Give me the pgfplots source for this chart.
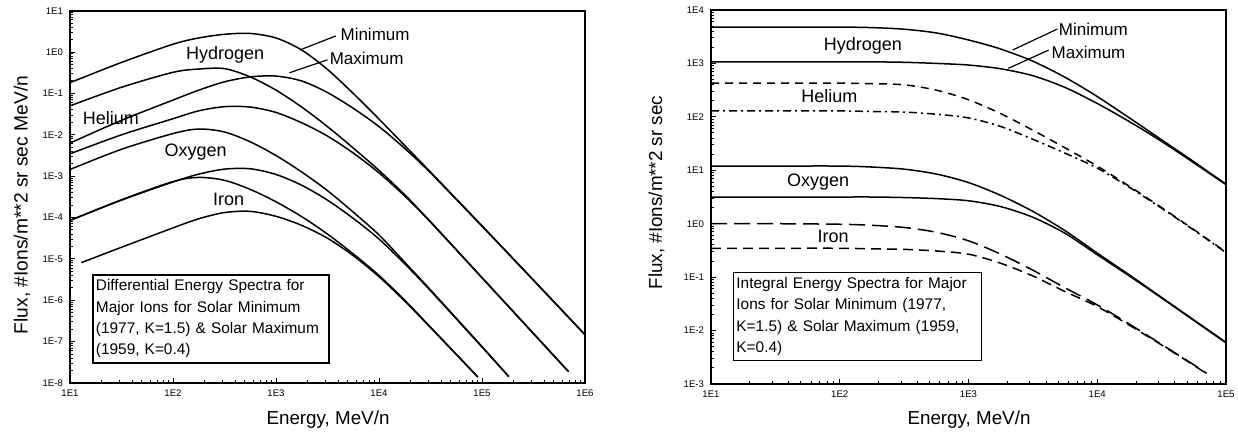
\documentclass[border=0pt]{standalone}
\usepackage{pgfplots}
\pgfplotsset{compat=1.18}
\usepackage{fontspec}
\setmainfont{Liberation Sans}

\tikzset{
  curve/.style={smooth, line width=0.75pt, black},
  lbl/.style={font=\fontsize{9}{10}\selectfont},
  ptr/.style={font=\fontsize{8.5}{10}\selectfont, anchor=west, inner sep=0pt},
  note/.style={draw, line width=0.8pt, anchor=north west, align=left, inner xsep=1.5pt,
    inner ysep=1pt, minimum height=44pt, font=\fontsize{7.7}{10.6}\selectfont},
}

\begin{document}
\begin{tikzpicture}
\useasboundingbox (0,0) rectangle (619pt,217pt);

% ---------------- differential spectra ----------------
\begin{axis}[at={(35pt,25.5pt)}, anchor=south west,
  scale only axis, width=257.5pt, height=186.15pt,
  xmode=log, ymode=log,
  axis line style={line width=0.8pt},
  tick align=inside, tick pos=left,
  major tick length=2.6pt, minor tick length=1.3pt,
  tick style={line width=0.5pt, black},
  ticklabel style={font=\fontsize{4.8}{5}\selectfont},
  xmin=10, xmax=1e6, ymin=1e-8, ymax=10,
  xtick={10,100,1000,10000,100000,1000000},
  xticklabels={1E1,1E2,1E3,1E4,1E5,1E6},
  ytick={1e-8,1e-7,1e-6,1e-5,1e-4,1e-3,1e-2,1e-1,1,10},
  yticklabels={1E-8,1E-7,1E-6,1E-5,1E-4,1E-3,1E-2,1E-1,1E0,1E1},
  minor xtick={20,30,40,50,60,70,80,90,200,300,400,500,600,700,800,900,
    2000,3000,4000,5000,6000,7000,8000,9000,2e4,3e4,4e4,5e4,6e4,7e4,8e4,9e4,
    2e5,3e5,4e5,5e5,6e5,7e5,8e5,9e5},
  minor ytick={2e-8,3e-8,4e-8,5e-8,6e-8,7e-8,8e-8,9e-8,
    2e-7,3e-7,4e-7,5e-7,6e-7,7e-7,8e-7,9e-7,
    2e-6,3e-6,4e-6,5e-6,6e-6,7e-6,8e-6,9e-6,
    2e-5,3e-5,4e-5,5e-5,6e-5,7e-5,8e-5,9e-5,
    2e-4,3e-4,4e-4,5e-4,6e-4,7e-4,8e-4,9e-4,
    2e-3,3e-3,4e-3,5e-3,6e-3,7e-3,8e-3,9e-3,
    2e-2,3e-2,4e-2,5e-2,6e-2,7e-2,8e-2,9e-2,
    0.2,0.3,0.4,0.5,0.6,0.7,0.8,0.9,2,3,4,5,6,7,8,9},
]
% Hydrogen, solar minimum
\addplot[curve] coordinates {(10,1.82e-1) (31.62,5.62e-1) (100,1.55) (177.8,2.19)
  (316.2,2.69) (562.3,2.82) (1000,2.19) (1778,1.12) (3162,3.80e-1) (5623,1.00e-1)
  (1e4,2.40e-2) (17783,5.50e-3) (31623,1.26e-3) (1e5,6.31e-5) (316228,3.09e-6) (1e6,1.48e-7)};
% Hydrogen, solar maximum
\addplot[curve] coordinates {(10,6.31e-3) (31.62,2.24e-2) (100,6.92e-2) (177.8,1.20e-1)
  (316.2,1.91e-1) (562.3,2.51e-1) (1000,2.63e-1) (1778,2.00e-1) (3162,1.05e-1) (5623,4.37e-2)
  (1e4,1.58e-2) (17783,4.68e-3) (31623,1.20e-3) (1e5,6.17e-5) (316228,3.02e-6) (1e6,1.45e-7)};
% Helium, solar minimum
\addplot[curve] coordinates {(10,5.01e-2) (31.62,1.41e-1) (100,3.24e-1) (177.8,3.89e-1)
  (316.2,3.98e-1) (562.3,2.51e-1) (1000,1.20e-1) (1778,4.68e-2) (3162,1.58e-2) (5623,4.79e-3)
  (1e4,1.38e-3) (17783,3.55e-4) (31623,7.94e-5) (1e5,3.55e-6) (316228,1.58e-7) (691831,1.91e-8)};
% Helium, solar maximum
\addplot[curve] coordinates {(10,3.47e-3) (31.62,1.00e-2) (100,2.45e-2) (177.8,3.80e-2)
  (316.2,4.79e-2) (562.3,4.68e-2) (1000,3.47e-2) (1778,1.95e-2) (3162,9.33e-3) (5623,3.63e-3)
  (1e4,1.20e-3) (17783,3.31e-4) (31623,7.76e-5) (1e5,3.47e-6) (316228,1.55e-7) (691831,1.86e-8)};
% Oxygen, solar minimum
\addplot[curve] coordinates {(10,1.45e-3) (31.62,4.47e-3) (100,1.07e-2) (177.8,1.38e-2)
  (316.2,1.17e-2) (562.3,6.76e-3) (1000,3.16e-3) (1778,1.26e-3) (3162,4.47e-4) (5623,1.35e-4)
  (1e4,3.80e-5) (17783,8.32e-6) (31623,1.78e-6) (1e5,7.59e-8) (181970,1.45e-8)};
% Oxygen, solar maximum
\addplot[curve] coordinates {(10,8.51e-5) (31.62,2.63e-4) (100,7.24e-4) (177.8,1.12e-3)
  (316.2,1.48e-3) (562.3,1.51e-3) (1000,1.10e-3) (1778,6.03e-4) (3162,2.63e-4) (5623,9.55e-5)
  (1e4,3.02e-5) (17783,7.59e-6) (31623,1.70e-6) (1e5,7.41e-8) (181970,1.41e-8)};
% Iron, solar minimum
\addplot[curve] coordinates {(10,8.51e-5) (31.62,2.69e-4) (100,7.41e-4) (177.8,9.33e-4)
  (316.2,7.94e-4) (562.3,4.79e-4) (1000,2.40e-4) (1778,1.05e-4) (3162,3.98e-5) (5623,1.32e-5)
  (1e4,3.98e-6) (17783,1.00e-6) (31623,2.24e-7) (91201,1.41e-8)};
% Iron, solar maximum
\addplot[curve] coordinates {(12.9,8.13e-6) (31.62,1.91e-5) (100,5.62e-5) (177.8,9.33e-5)
  (316.2,1.32e-4) (562.3,1.41e-4) (1000,1.07e-4) (1778,6.46e-5) (3162,3.16e-5) (5623,1.20e-5)
  (1e4,3.72e-6) (17783,9.55e-7) (31623,2.19e-7) (91201,1.38e-8)};

\node[lbl] at (axis cs:320,0.85) {Hydrogen};
\node[lbl] at (axis cs:25,0.026) {Helium};
\node[lbl] at (axis cs:166,0.0039) {Oxygen};
\node[lbl] at (axis cs:347,2.8e-4) {Iron};
\draw[line width=0.6pt] (axis cs:1700,1.12) -- (axis cs:3800,2.45);
\draw[line width=0.6pt] (axis cs:1350,0.316) -- (axis cs:3160,0.65);
\node[ptr] at (axis cs:4200,2.6) {Minimum};
\node[ptr] at (axis cs:3300,0.72) {Maximum};
\node[note, text width=115pt] at (rel axis cs:0.043,0.293)
  {Differential Energy Spectra for\\Major Ions for Solar Minimum\\(1977, K=1.5) \& Solar Maximum\\(1959, K=0.4)};
\end{axis}

% ---------------- integral spectra ----------------
\begin{axis}[at={(355.5pt,25pt)}, anchor=south west,
  scale only axis, width=257.5pt, height=187pt,
  xmode=log, ymode=log,
  axis line style={line width=0.8pt},
  tick align=inside, tick pos=left,
  major tick length=2.6pt, minor tick length=1.3pt,
  tick style={line width=0.5pt, black},
  ticklabel style={font=\fontsize{4.8}{5}\selectfont},
  xmin=10, xmax=1e5, ymin=1e-3, ymax=1e4,
  xtick={10,100,1000,10000,100000},
  xticklabels={1E1,1E2,1E3,1E4,1E5},
  ytick={1e-3,1e-2,1e-1,1,10,100,1000,10000},
  yticklabels={1E-3,1E-2,1E-1,1E0,1E1,1E2,1E3,1E4},
  minor xtick={20,30,40,50,60,70,80,90,200,300,400,500,600,700,800,900,
    2000,3000,4000,5000,6000,7000,8000,9000,2e4,3e4,4e4,5e4,6e4,7e4,8e4,9e4},
  minor ytick={2e-3,3e-3,4e-3,5e-3,6e-3,7e-3,8e-3,9e-3,
    2e-2,3e-2,4e-2,5e-2,6e-2,7e-2,8e-2,9e-2,
    0.2,0.3,0.4,0.5,0.6,0.7,0.8,0.9,2,3,4,5,6,7,8,9,
    20,30,40,50,60,70,80,90,200,300,400,500,600,700,800,900,
    2000,3000,4000,5000,6000,7000,8000,9000},
]
% Hydrogen, solar minimum / maximum
\addplot[curve] coordinates {(10,4.79e3) (31.62,4.79e3) (100,4.79e3) (177.8,4.68e3) (316.2,4.37e3)
  (562.3,3.72e3) (1000,2.75e3) (1778,1.86e3) (3162,1.10e3) (5623,5.50e2) (1e4,2.40e2)
  (17783,9.55e1) (31623,3.72e1) (56234,1.45e1) (1e5,5.50)};
\addplot[curve] coordinates {(10,1.07e3) (31.62,1.07e3) (100,1.07e3) (177.8,1.07e3) (316.2,1.05e3)
  (562.3,1.00e3) (1000,9.33e2) (1778,7.94e2) (3162,5.89e2) (5623,3.55e2) (1e4,1.78e2)
  (17783,8.13e1) (31623,3.47e1) (56234,1.38e1) (1e5,5.37)};
% Helium, solar minimum / maximum
\addplot[curve, dash pattern=on 4pt off 3pt] coordinates {(10,4.27e2) (31.62,4.27e2) (100,4.27e2)
  (177.8,4.17e2) (316.2,3.98e2) (562.3,3.16e2) (1000,2.09e2) (1778,1.15e2) (3162,5.62e1)
  (5623,2.63e1) (1e4,1.20e1) (17783,5.01) (31623,2.00) (56234,7.76e-1) (1e5,2.95e-1)};
\addplot[curve, dash pattern=on 4pt off 2pt on 1pt off 2pt] coordinates {(10,1.29e2) (31.62,1.29e2)
  (100,1.29e2) (177.8,1.26e2) (316.2,1.23e2) (562.3,1.12e2) (1000,9.55e1) (1778,6.61e1)
  (3162,3.80e1) (5623,2.09e1) (1e4,1.10e1) (17783,4.79) (31623,1.95) (56234,7.59e-1) (1e5,2.88e-1)};
% Oxygen, solar minimum / maximum
\addplot[curve] coordinates {(10,1.20e1) (31.62,1.20e1) (100,1.20e1) (177.8,1.15e1) (316.2,1.05e1)
  (562.3,8.51) (1000,5.89) (1778,3.39) (3162,1.70) (5623,7.41e-1) (1e4,2.82e-1)
  (17783,1.10e-1) (31623,4.17e-2) (56234,1.58e-2) (1e5,6.03e-3)};
\addplot[curve] coordinates {(10,3.16) (31.62,3.16) (100,3.16) (177.8,3.16) (316.2,3.09)
  (562.3,2.95) (1000,2.69) (1778,2.09) (3162,1.32) (5623,6.61e-1) (1e4,2.63e-1)
  (17783,1.05e-1) (31623,4.07e-2) (56234,1.55e-2) (1e5,5.89e-3)};
% Iron, solar minimum / maximum
\addplot[curve, dash pattern=on 8pt off 3.5pt] coordinates {(10,1.00) (31.62,1.00) (100,9.77e-1)
  (177.8,9.33e-1) (316.2,8.51e-1) (562.3,6.92e-1) (1000,4.79e-1) (1778,2.69e-1) (3162,1.35e-1)
  (5623,6.31e-2) (1e4,3.02e-2) (17783,1.32e-2) (31623,5.50e-3) (56234,2.29e-3) (70795,1.58e-3)};
\addplot[curve, dash pattern=on 5pt off 3pt] coordinates {(10,3.47e-1) (31.62,3.47e-1) (100,3.47e-1)
  (177.8,3.39e-1) (316.2,3.31e-1) (562.3,3.09e-1) (1000,2.69e-1) (1778,1.82e-1) (3162,1.05e-1)
  (5623,5.37e-2) (1e4,2.82e-2) (17783,1.26e-2) (31623,5.37e-3) (56234,2.24e-3) (70795,1.55e-3)};

\node[lbl] at (axis cs:151,2.1e3) {Hydrogen};
\node[lbl] at (axis cs:83,240) {Helium};
\node[lbl] at (axis cs:68,6.0) {Oxygen};
\node[lbl] at (axis cs:89,0.57) {Iron};
\draw[line width=0.6pt] (axis cs:2200,1780) -- (axis cs:4900,4400);
\draw[line width=0.6pt] (axis cs:2040,810) -- (axis cs:4200,1780);
\node[ptr] at (axis cs:5000,4400) {Minimum};
\node[ptr] at (axis cs:4400,1600) {Maximum};
\node[note, text width=121pt] at (rel axis cs:0.042,0.30)
  {Integral Energy Spectra for Major\\Ions for Solar Minimum (1977,\\K=1.5) \& Solar Maximum (1959,\\K=0.4)};
\end{axis}

% axis titles
\node[font=\fontsize{9.4}{11}\selectfont] at (164pt,7pt) {Energy, MeV/n};
\node[font=\fontsize{9.4}{11}\selectfont] at (484.5pt,7pt) {Energy, MeV/n};
\node[font=\fontsize{9.6}{11}\selectfont, rotate=90] at (11pt,114.5pt) {Flux, \#Ions/m**2 sr sec MeV/n};
\node[font=\fontsize{9.4}{11}\selectfont, rotate=90] at (328.3pt,120.75pt) {Flux, \#Ions/m**2 sr sec};
\end{tikzpicture}
\end{document}
